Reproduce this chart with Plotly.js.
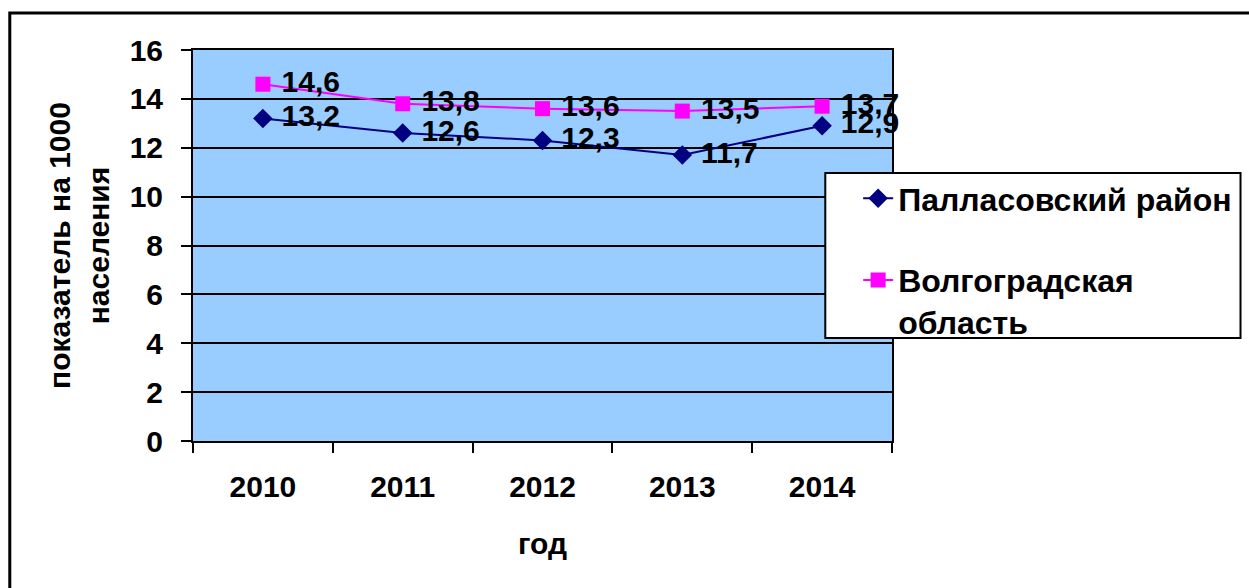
<!DOCTYPE html>
<html>
<head>
<meta charset="utf-8">
<script src="https://cdn.plot.ly/plotly-3.0.1.min.js"></script>
<style>html,body{margin:0;padding:0;background:#fff;}#chart{width:1249px;height:588px;}</style>
</head>
<body>
<div id="chart"></div>
<script>
const years = ["2010", "2011", "2012", "2013", "2014"];
const pallasovsky = [13.2, 12.6, 12.3, 11.7, 12.9];
const volgograd = [14.6, 13.8, 13.6, 13.5, 13.7];
const seriesNames = ["Палласовский район", "Волгоградская<br>область"];
const yTitle = "показатель на 1000<br>населения";
const xTitle = "год";

const W = 1249, H = 588;
const L = 193, R = 895, T = 50, B = 441;
const px = v => (v - L) / (R - L);
const py = v => (B - v) / (B - T);
const FONT = "Liberation Sans, Arial, sans-serif";
const FS = 30;
const bold = (s) => "<b>" + s + "</b>";
const f = (size) => ({family: FONT, size: size, color: "#000", weight: "bold"});

const traces = [
  {
    x: years, y: pallasovsky, name: bold(seriesNames[0]), type: "scatter", mode: "lines+markers+text",
    line: {color: "#000080", width: 2},
    marker: {symbol: "diamond", size: 15, color: "#000080"},
    texttemplate: "\u00A0%{y}", textposition: "middle right",
    textfont: f(FS),
    cliponaxis: false, legendgroup: "a"
  },
  {
    x: years, y: volgograd, name: bold(seriesNames[1]), type: "scatter", mode: "lines+markers+text",
    line: {color: "#FF00FF", width: 2},
    marker: {symbol: "square", size: 15, color: "#FF00FF"},
    texttemplate: "\u00A0%{y}", textposition: "middle right",
    textfont: f(FS),
    cliponaxis: false, legendgroup: "b"
  }
];

const layout = {
  width: W, height: H,
  margin: {l: L, r: W - R, t: T, b: H - B, pad: 0},
  paper_bgcolor: "#ffffff",
  plot_bgcolor: "#99CCFF",
  separators: ", ",
  font: f(FS),
  showlegend: true,
  legend: {
    x: px(861), y: py(171), xanchor: "left", yanchor: "top",
    bgcolor: "rgba(0,0,0,0)", borderwidth: 0,
    font: f(32),
    tracegroupgap: 37, traceorder: "grouped", valign: "top"
  },
  xaxis: {
    type: "category", range: [-0.5, 4.5],
    showline: true, linecolor: "#000", linewidth: 2, mirror: true,
    showgrid: false, zeroline: false,
    ticks: "outside", tickson: "boundaries", ticklen: 10, tickwidth: 2, tickcolor: "#000",
    ticklabelstandoff: 18,
    tickfont: f(FS),
    title: {text: bold(xTitle), standoff: 31, font: f(FS)}
  },
  yaxis: {
    range: [0, 16], dtick: 2, tick0: 0,
    showline: true, linecolor: "#000", linewidth: 2, mirror: true,
    showgrid: true, gridcolor: "#000", gridwidth: 2, zeroline: false,
    ticks: "outside", ticklen: 10, tickwidth: 2, tickcolor: "#000",
    ticklabelstandoff: 12,
    tickfont: f(FS),
    title: {text: bold(yTitle), standoff: 11, font: f(FS)}
  },
  shapes: [
    {type: "rect", xref: "paper", yref: "paper",
     x0: px(9), x1: px(1260), y0: py(600), y1: py(13),
     line: {color: "#000", width: 3}, fillcolor: "rgba(0,0,0,0)", layer: "below"},
    {type: "rect", xref: "paper", yref: "paper",
     x0: px(828), x1: px(1245), y0: py(338), y1: py(173),
     line: {color: "#000", width: 2}, fillcolor: "#ffffff", layer: "above"}
  ]
};

Plotly.newPlot("chart", traces, layout, {displayModeBar: false, staticPlot: true});
</script>
</body>
</html>
